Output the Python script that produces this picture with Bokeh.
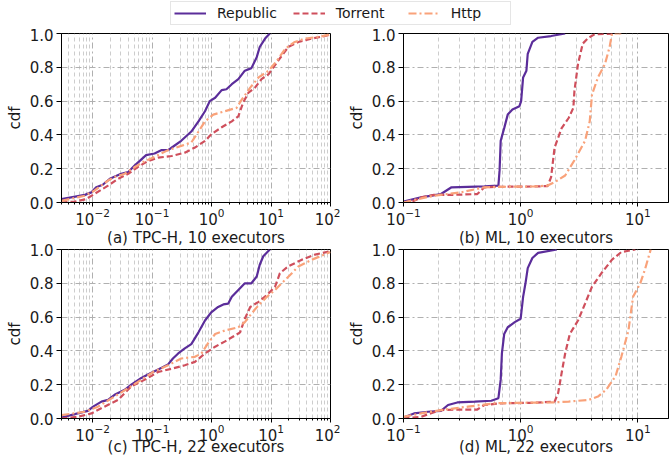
from bokeh.plotting import figure
from bokeh.layouts import column, row
from bokeh.models import (Range1d, FixedTicker, NumeralTickFormatter, Legend, LegendItem)
from bokeh.embed import file_html
from bokeh.resources import INLINE

FONT = "DejaVu Sans"
TXT = "#1a1a1a"
C_REP = "#5b2d9a"
C_TOR = "#cf4f5c"
C_HTTP = "#f9a27a"

series_names = ["Republic", "Torrent", "Http"]
y_ticks = [0.0, 0.2, 0.4, 0.6, 0.8, 1.0]
titles = ["(a) TPC-H, 10 executors", "(b) ML, 10 executors",
          "(c) TPC-H, 22 executors", "(d) ML, 22 executors"]

# ---- (a) TPC-H, 10 executors
a_rep_x = [0.003, 0.00741, 0.00955, 0.0115, 0.0148, 0.0195, 0.0302, 0.0398, 0.0513, 0.0794, 0.110, 0.145, 0.186, 0.224, 0.309, 0.457, 0.603, 0.776, 0.933, 1.15, 1.48, 1.78, 2.19, 2.82, 3.63, 4.68, 5.75, 6.46, 7.94, 9.55]
a_rep_y = [0.02, 0.045, 0.06, 0.09, 0.105, 0.14, 0.17, 0.18, 0.22, 0.28, 0.29, 0.31, 0.31, 0.33, 0.365, 0.42, 0.48, 0.54, 0.60, 0.62, 0.665, 0.67, 0.70, 0.73, 0.78, 0.795, 0.86, 0.92, 0.97, 1.0]
a_tor_x = [0.003, 0.00501, 0.00776, 0.0107, 0.0182, 0.0269, 0.0398, 0.0575, 0.0851, 0.126, 0.214, 0.355, 0.525, 0.776, 1.0, 1.48, 2.19, 2.82, 3.39, 4.17, 5.37, 6.92, 9.12, 13.2, 19.5, 28.8, 49.0, 81.3, 100]
a_tor_y = [0.0, 0.005, 0.02, 0.05, 0.10, 0.14, 0.17, 0.21, 0.245, 0.265, 0.275, 0.295, 0.325, 0.365, 0.405, 0.445, 0.48, 0.51, 0.59, 0.65, 0.68, 0.73, 0.76, 0.84, 0.92, 0.95, 0.97, 0.985, 0.995]
a_http_x = [0.003, 0.00741, 0.0107, 0.0182, 0.0251, 0.0347, 0.0513, 0.0759, 0.110, 0.186, 0.309, 0.457, 0.603, 0.776, 1.07, 1.66, 2.63, 3.24, 4.47, 6.17, 9.12, 12.6, 17.4, 25.1, 37.2, 63.1, 100]
a_http_y = [0.01, 0.04, 0.07, 0.13, 0.155, 0.17, 0.21, 0.245, 0.27, 0.31, 0.335, 0.355, 0.42, 0.48, 0.52, 0.54, 0.56, 0.61, 0.68, 0.74, 0.78, 0.84, 0.91, 0.95, 0.97, 0.98, 0.995]

# ---- (b) ML, 10 executors
b_rep_x = [0.1, 0.141, 0.209, 0.257, 0.355, 0.490, 0.646, 0.661, 0.676, 0.724, 0.776, 0.851, 0.977, 1.01, 1.05, 1.12, 1.15, 1.26, 1.41, 1.82, 2.40]
b_rep_y = [0.006, 0.03, 0.05, 0.09, 0.093, 0.095, 0.10, 0.19, 0.365, 0.44, 0.52, 0.55, 0.57, 0.60, 0.74, 0.78, 0.88, 0.95, 0.975, 0.985, 1.0]
b_tor_x = [0.1, 0.123, 0.141, 0.182, 0.257, 0.427, 0.490, 0.676, 1.32, 1.70, 1.82, 1.95, 2.24, 2.57, 2.82, 2.88, 3.09, 3.39, 3.80, 4.27, 6.46]
b_tor_y = [0.0, 0.01, 0.03, 0.045, 0.045, 0.05, 0.09, 0.093, 0.095, 0.097, 0.15, 0.325, 0.44, 0.50, 0.56, 0.66, 0.82, 0.94, 0.975, 0.995, 1.0]
b_http_x = [0.1, 0.132, 0.182, 0.309, 0.490, 0.676, 1.32, 1.70, 1.95, 2.40, 2.88, 3.55, 3.89, 4.07, 4.57, 5.25, 5.75, 6.03, 7.24]
b_http_y = [0.0, 0.02, 0.04, 0.06, 0.09, 0.093, 0.095, 0.10, 0.12, 0.16, 0.25, 0.365, 0.48, 0.64, 0.74, 0.82, 0.92, 1.0, 1.0]

# ---- (c) TPC-H, 22 executors
c_rep_x = [0.003, 0.00562, 0.00832, 0.0102, 0.0141, 0.0182, 0.0234, 0.0347, 0.0447, 0.0661, 0.0851, 0.110, 0.145, 0.186, 0.224, 0.275, 0.355, 0.457, 0.603, 0.776, 1.0, 1.29, 1.58, 1.91, 2.19, 2.82, 3.63, 4.68, 5.75, 6.46, 7.41, 9.55]
c_rep_y = [0.006, 0.03, 0.045, 0.07, 0.10, 0.11, 0.14, 0.17, 0.20, 0.24, 0.26, 0.28, 0.30, 0.32, 0.355, 0.385, 0.415, 0.44, 0.51, 0.58, 0.63, 0.66, 0.675, 0.68, 0.72, 0.76, 0.80, 0.80, 0.84, 0.91, 0.96, 1.0]
c_tor_x = [0.003, 0.00562, 0.00955, 0.0158, 0.0269, 0.0447, 0.0759, 0.126, 0.214, 0.355, 0.525, 0.776, 1.15, 1.66, 2.45, 3.02, 3.63, 4.47, 6.17, 8.51, 11.7, 14.1, 19.5, 33.1, 55.0, 100]
c_tor_y = [0.0, 0.01, 0.03, 0.07, 0.11, 0.19, 0.23, 0.275, 0.295, 0.315, 0.335, 0.385, 0.425, 0.455, 0.49, 0.51, 0.59, 0.66, 0.69, 0.73, 0.78, 0.86, 0.90, 0.94, 0.97, 0.99]
c_http_x = [0.003, 0.00741, 0.0123, 0.0234, 0.0398, 0.0661, 0.110, 0.186, 0.309, 0.525, 0.676, 0.871, 1.15, 1.66, 2.82, 3.63, 4.68, 6.17, 8.51, 11.7, 15.1, 22.4, 28.8, 49.0, 100]
c_http_y = [0.02, 0.04, 0.07, 0.13, 0.18, 0.23, 0.28, 0.315, 0.355, 0.365, 0.385, 0.445, 0.50, 0.52, 0.54, 0.57, 0.62, 0.67, 0.72, 0.76, 0.80, 0.86, 0.90, 0.94, 0.985]

# ---- (d) ML, 22 executors
d_rep_x = [0.1, 0.123, 0.162, 0.209, 0.240, 0.288, 0.407, 0.562, 0.646, 0.676, 0.692, 0.724, 0.776, 0.891, 1.0, 1.05, 1.10, 1.15, 1.26, 1.41, 2.04]
d_rep_y = [0.006, 0.03, 0.04, 0.045, 0.08, 0.095, 0.10, 0.105, 0.12, 0.23, 0.385, 0.50, 0.54, 0.57, 0.59, 0.72, 0.80, 0.89, 0.95, 0.98, 1.0]
d_tor_x = [0.1, 0.141, 0.170, 0.209, 0.309, 0.427, 0.490, 0.676, 1.32, 1.95, 2.09, 2.24, 2.40, 2.63, 3.09, 3.55, 4.07, 4.90, 6.03, 7.24, 9.55]
d_tor_y = [0.0, 0.01, 0.03, 0.05, 0.053, 0.053, 0.08, 0.09, 0.093, 0.10, 0.15, 0.27, 0.385, 0.50, 0.58, 0.68, 0.78, 0.86, 0.94, 0.985, 1.0]
d_http_x = [0.1, 0.141, 0.209, 0.355, 0.603, 1.01, 1.82, 2.57, 3.80, 4.57, 5.37, 6.46, 7.24, 8.32, 9.12, 10.5, 11.5, 12.9]
d_http_y = [0.01, 0.03, 0.05, 0.07, 0.09, 0.093, 0.095, 0.10, 0.11, 0.13, 0.17, 0.25, 0.365, 0.52, 0.72, 0.80, 0.88, 1.0]

tpch_decades = [0.001, 0.01, 0.1, 1, 10, 100]
ml_decades = [0.01, 0.1, 1, 10, 100]


def minor_of(decades):
    return [d * m for d in decades for m in range(2, 10)]


STYLES = {
    "Republic": dict(color=C_REP, line_dash="solid"),
    "Torrent": dict(color=C_TOR, line_dash="6 3"),
    "Http": dict(color=C_HTTP, line_dash="8 3 2 3"),
}


def make_panel(xr, decades, label, label_standoff, series, bl, br, bt, bb, fw, fh,
               border_alpha=1.0):
    p = figure(x_axis_type="log", x_range=Range1d(*xr), y_range=Range1d(0, 1),
               frame_width=fw, frame_height=fh,
               min_border_left=bl, min_border_right=br,
               min_border_top=bt, min_border_bottom=bb,
               output_backend="svg", toolbar_location=None)
    p.outline_line_color = "black"
    p.outline_line_width = 1
    p.background_fill_color = "white"
    p.border_fill_color = "white"
    p.border_fill_alpha = border_alpha

    p.xaxis.ticker = FixedTicker(ticks=decades, minor_ticks=minor_of(decades))
    p.yaxis.ticker = FixedTicker(ticks=y_ticks)
    p.yaxis.formatter = NumeralTickFormatter(format="0.0")

    for ax in (p.xaxis, p.yaxis):
        ax.axis_line_color = "black"
        ax.major_tick_line_color = "black"
        ax.minor_tick_line_color = "black"
        ax.major_tick_in = 0
        ax.minor_tick_in = 0
        ax.major_label_text_font = FONT
        ax.major_label_text_font_size = "15px"
        ax.major_label_text_color = TXT
        ax.axis_label_text_font = FONT
        ax.axis_label_text_font_size = "15px"
        ax.axis_label_text_font_style = "normal"
        ax.axis_label_text_color = TXT
    p.xaxis.major_tick_out = 4
    p.xaxis.minor_tick_out = 2
    p.xaxis.major_label_standoff = 1
    p.xaxis.axis_label_standoff = label_standoff
    p.yaxis.major_tick_out = 5
    p.yaxis.minor_tick_line_color = None
    p.yaxis.major_label_standoff = 3
    p.yaxis.axis_label_standoff = 3
    p.xaxis.axis_label = label
    p.yaxis.axis_label = "cdf"

    p.xgrid.grid_line_color = "#b0b0b0"
    p.xgrid.grid_line_dash = "6 3 2 3"
    p.xgrid.grid_line_width = 1
    p.xgrid.minor_grid_line_color = "#c0c0c0"
    p.xgrid.minor_grid_line_dash = "4 3"
    p.xgrid.minor_grid_line_width = 0.8
    p.ygrid.grid_line_color = "#b0b0b0"
    p.ygrid.grid_line_dash = "6 3 2 3"
    p.ygrid.grid_line_width = 1

    for name, (xs, ys) in zip(series_names, series):
        st = STYLES[name]
        p.line(xs, ys, line_color=st["color"], line_dash=st["line_dash"], line_width=2.2)
    return p


fa = make_panel((0.003, 100), tpch_decades, titles[0], 1,
                [(a_rep_x, a_rep_y), (a_tor_x, a_tor_y), (a_http_x, a_http_y)],
                61, 10, 5, 40, 269, 169)
fb = make_panel((0.1, 18.3), ml_decades, titles[1], 1,
                [(b_rep_x, b_rep_y), (b_tor_x, b_tor_y), (b_http_x, b_http_y)],
                63, 1, 5, 40, 265, 169)
# lower row: transparent border so it can overlap the captions of the upper row
fc = make_panel((0.003, 100), tpch_decades, titles[2], -6,
                [(c_rep_x, c_rep_y), (c_tor_x, c_tor_y), (c_http_x, c_http_y)],
                61, 10, 10, 40, 269, 169, border_alpha=0.0)
fd = make_panel((0.1, 18.3), ml_decades, titles[3], -6,
                [(d_rep_x, d_rep_y), (d_tor_x, d_tor_y), (d_http_x, d_http_y)],
                63, 1, 10, 40, 265, 169, border_alpha=0.0)

# legend strip: the sample renderers reuse panel (a) data but sit outside the visible range
lf = figure(width=669, height=28, x_range=Range1d(1000, 1001), y_range=Range1d(1000, 1001),
            output_backend="svg", toolbar_location=None,
            min_border_left=0, min_border_right=0, min_border_top=0, min_border_bottom=0)
lf.axis.visible = False
lf.grid.visible = False
lf.outline_line_color = None
items = []
for name, (xs, ys) in zip(series_names, [(a_rep_x, a_rep_y), (a_tor_x, a_tor_y), (a_http_x, a_http_y)]):
    st = STYLES[name]
    r = lf.line(xs, ys, line_color=st["color"], line_dash=st["line_dash"], line_width=2.2)
    items.append(LegendItem(label=name, renderers=[r]))
leg = Legend(items=items, orientation="horizontal", location=(170, 3),
             label_text_font=FONT, label_text_font_size="14px", label_text_color=TXT,
             glyph_width=32, glyph_height=14, label_height=14, label_width=56,
             label_standoff=11, spacing=16, padding=3, margin=0,
             border_line_color="#cccccc", border_line_width=1,
             background_fill_color="white", background_fill_alpha=1.0)
lf.add_layout(leg)

row1 = row(fa, fb)
row2 = row(fc, fd, margin=(-10, 0, 0, 0))
layout = column(lf, row1, row2)

with open("out.html", "w") as f:
    f.write(file_html(layout, INLINE))
